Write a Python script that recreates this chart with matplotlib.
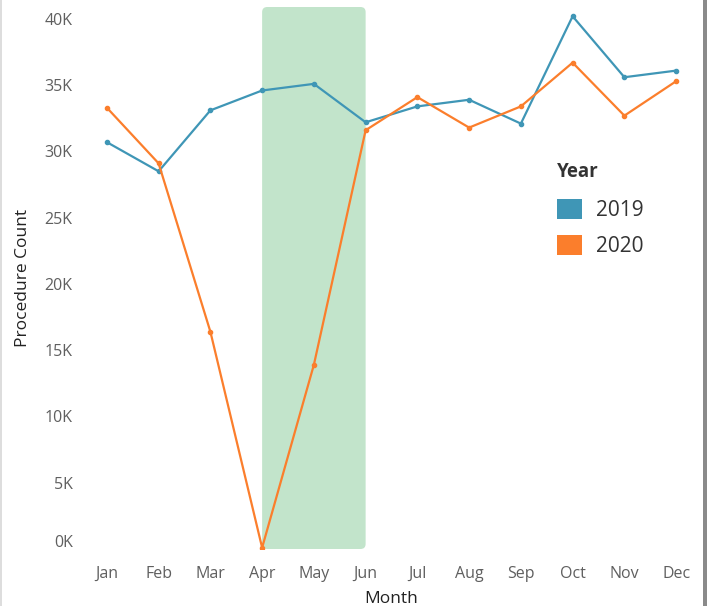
import numpy as np
import matplotlib.pyplot as plt
from matplotlib.patches import FancyBboxPatch, Patch, Rectangle
import matplotlib.transforms as mtrans

plt.rcParams['font.family'] = ['Open Sans', 'DejaVu Sans']

months = ["Jan", "Feb", "Mar", "Apr", "May", "Jun",
          "Jul", "Aug", "Sep", "Oct", "Nov", "Dec"]
counts_2019 = [30700, 28500, 33100, 34600, 35100, 32200,
               33400, 33900, 32100, 40200, 35600, 36100]
counts_2020 = [33300, 29100, 16400, 100, 13900, 31600,
               34100, 31800, 33400, 36700, 32700, 35300]
yticks = [0, 5000, 10000, 15000, 20000, 25000, 30000, 35000, 40000]
ytick_labels = ["0K", "5K", "10K", "15K", "20K", "25K", "30K", "35K", "40K"]
shade_start, shade_end = "Apr", "Jun"

c19 = "#3f96b6"
c20 = "#fb7e2c"

fig = plt.figure(figsize=(7.07, 6.06), dpi=100)
ax = fig.add_axes([81 / 707, 1 - 549 / 606, 621 / 707, 542 / 606])

x = np.arange(len(months))
x0 = months.index(shade_start)
x1 = months.index(shade_end)
shade = FancyBboxPatch((x0, 0), x1 - x0, 40900,
                       boxstyle="round,pad=0,rounding_size=0.1",
                       mutation_aspect=3800, facecolor="#c2e4cb",
                       edgecolor="none", zorder=0)
ax.add_patch(shade)

ax.plot(x, counts_2019, color=c19, lw=1.6, marker="o", ms=3, zorder=3)
ax.plot(x, counts_2020, color=c20, lw=1.6, marker="o", ms=3, zorder=3)

ax.set_xlim(-0.5, 11.5)
ax.set_ylim(0, 40900)
ax.set_xticks(x)
ax.set_xticklabels(months, fontsize=11.5, color="#5f5f5f")
ax.set_yticks(yticks)
ax.set_yticklabels(ytick_labels, fontsize=11.5, color="#5f5f5f")
ax.tick_params(length=0, pad=6)
ax.tick_params(axis="x", pad=12)
for s in ax.spines.values():
    s.set_visible(False)

# Tableau pushes the bottom label up a bit
lab0 = ax.get_yticklabels()[0]
lab0.set_transform(lab0.get_transform() +
                   mtrans.ScaledTranslation(0, 8 / 100, fig.dpi_scale_trans))

ax.set_xlabel("Month", fontsize=12.5, color="#222222", labelpad=7)
ax.set_ylabel("Procedure Count", fontsize=12.5, color="#222222", labelpad=10)

handles = [Patch(facecolor=c19, edgecolor="none", label="2019"),
           Patch(facecolor=c20, edgecolor="none", label="2020")]
leg = ax.legend(handles=handles, title="Year", loc="upper left",
                bbox_to_anchor=(538 / 707, 1 - 143 / 606),
                bbox_transform=fig.transFigure, frameon=False,
                fontsize=15, title_fontsize=13.5, handlelength=1.2,
                handleheight=1.1, handletextpad=0.7, labelspacing=0.65)
leg.get_title().set_fontweight("bold")
leg.get_title().set_color("#333333")
leg._legend_box.align = "left"
leg._legend_box.sep = 12.5  # gap under the title
for t in leg.get_texts():
    t.set_color("#333333")

# window borders
fig.patches.append(Rectangle((0, 0), 2 / 707, 1, transform=fig.transFigure,
                             facecolor="#dddddd", edgecolor="none"))
fig.patches.append(Rectangle((703 / 707, 0), 4 / 707, 1, transform=fig.transFigure,
                             facecolor="#8a8a8a", edgecolor="none"))

fig.savefig("out.png", dpi=100)
